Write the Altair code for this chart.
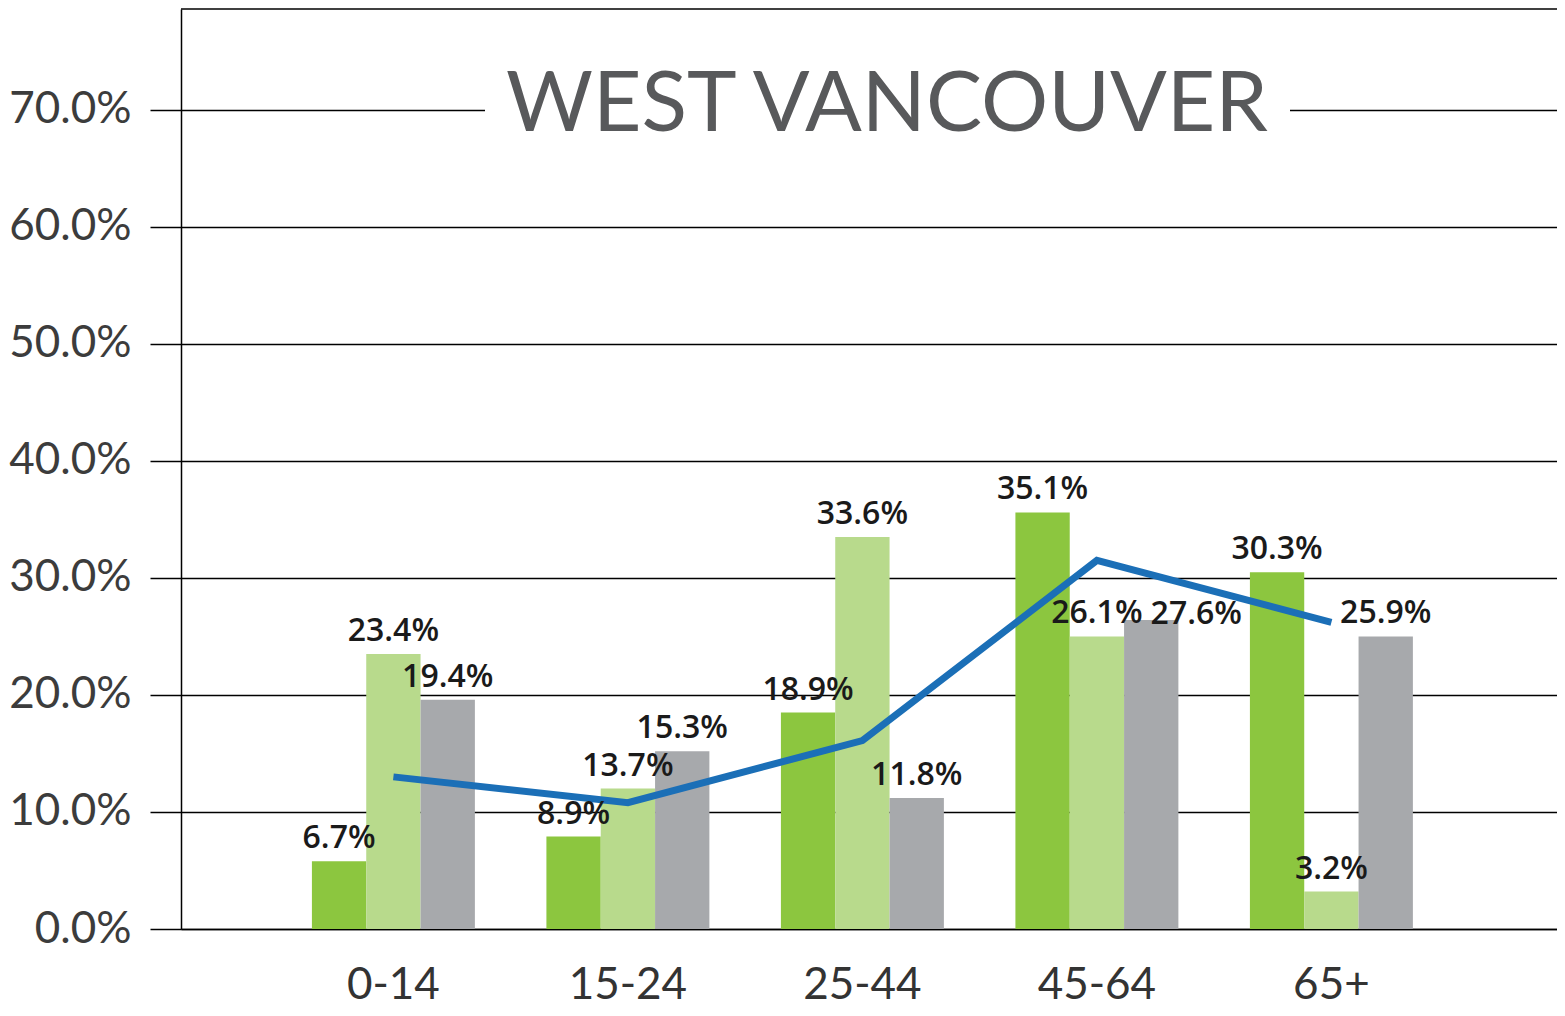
import altair as alt
import pandas as pd

# ---- data ----
age_groups = ["0-14", "15-24", "25-44", "45-64", "65+"]
series_names = ["Series 1", "Series 2", "Series 3"]
series1_values = [5.8, 7.9, 18.5, 35.6, 30.5]
series2_values = [23.5, 12.0, 33.5, 25.0, 3.2]
series3_values = [19.6, 15.2, 11.2, 26.4, 25.0]
series1_labels = ["6.7%", "8.9%", "18.9%", "35.1%", "30.3%"]
series2_labels = ["23.4%", "13.7%", "33.6%", "26.1%", "3.2%"]
series3_labels = ["19.4%", "15.3%", "11.8%", "27.6%", "25.9%"]
line_values = [13.0, 10.8, 16.1, 31.5, 26.2]
y_ticks = [0, 10, 20, 30, 40, 50, 60, 70]
title_text = "WEST VANCOUVER"
bar_colors = ["#8cc63f", "#b8da8c", "#a7a9ac"]
line_color = "#1b6fb7"

rows = []
for name, vals, labs in zip(series_names,
                            [series1_values, series2_values, series3_values],
                            [series1_labels, series2_labels, series3_labels]):
    for g, v, l in zip(age_groups, vals, labs):
        rows.append({"age": g, "series": name, "value": v, "label": l})
bars_df = pd.DataFrame(rows)
line_df = pd.DataFrame({"age": age_groups, "value": line_values})
title_df = pd.DataFrame({"t": [title_text]})

x = alt.X(
    "age:N", sort=age_groups,
    scale=alt.Scale(paddingInner=0.305, paddingOuter=0.5864, align=0.476),
    axis=alt.Axis(title=None, labelAngle=0, ticks=False, tickSize=0, labelPadding=34,
                  labelFontSize=44, labelFont="Lato", labelColor="#333333",
                  domainColor="black", domainWidth=1.5, grid=False),
)
y = alt.Y(
    "value:Q",
    scale=alt.Scale(domain=[0, 78.63], nice=False, zero=True),
    axis=alt.Axis(title=None, values=y_ticks,
                  labelExpr="format(datum.value, '.1f') + '%'",
                  labelFontSize=44, labelFont="Lato", labelFontWeight=400,
                  labelColor="#3c3c3c", tickSize=31, tickColor="black", tickWidth=1.5,
                  labelPadding=19, grid=True, gridColor="black", gridWidth=1.5,
                  domainColor="black", domainWidth=1.5),
)
xoff = alt.XOffset("series:N", sort=series_names,
                   scale=alt.Scale(paddingInner=0, paddingOuter=0))
color = alt.Color("series:N", sort=series_names,
                  scale=alt.Scale(domain=series_names, range=bar_colors), legend=None)

bars = alt.Chart(bars_df).mark_bar().encode(x=x, xOffset=xoff, y=y, color=color)
line = alt.Chart(line_df).mark_line(color=line_color, strokeWidth=7).encode(x=x, y=y)

label_style = dict(font="Open Sans", fontSize=32, fontWeight=600, color="#1a1a1a",
                   baseline="middle")
shifted = "datum.age == '45-64' && datum.series == 'Series 3'"
labels = alt.Chart(bars_df).mark_text(dy=-23, **label_style).encode(
    x=x, xOffset=xoff, y=y, text="label:N"
).transform_filter("!(" + shifted + ")")
labels_shifted = alt.Chart(bars_df).mark_text(dx=45, dy=-6, **label_style).encode(
    x=x, xOffset=xoff, y=y, text="label:N"
).transform_filter(shifted)

top_border = alt.Chart(title_df).mark_rule(color="black", strokeWidth=1.5).encode(
    y=alt.value(0)
)
title_bg = alt.Chart(title_df).mark_rect(color="white").encode(
    x=alt.value(304), x2=alt.value(1109), y=alt.value(60), y2=alt.value(140)
)
title = alt.Chart(title_df).mark_text(
    font="Lato", fontSize=84, fontWeight=400, color="#58595b", baseline="middle"
).encode(x=alt.value(706), y=alt.value(97), text="t:N")

chart = (
    alt.layer(bars, line, labels, labels_shifted, top_border, title_bg, title)
    .properties(
        width=1376, height=920, background="white",
        padding={"left": 173, "top": 1, "right": 0, "bottom": 79},
        autosize=alt.AutoSizeParams(type="none"),
    )
    .configure_view(stroke=None)
)

chart.save("out.html", embed_options={"renderer": "svg", "actions": False})
